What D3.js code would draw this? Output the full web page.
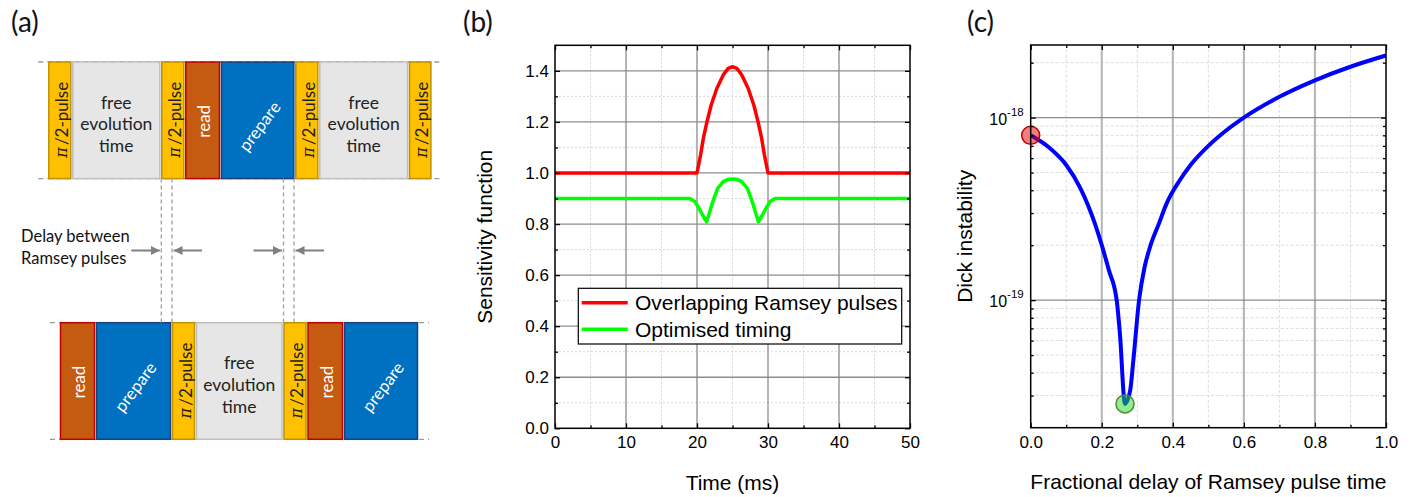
<!DOCTYPE html>
<html><head><meta charset="utf-8">
<script src="https://cdn.jsdelivr.net/npm/d3@7"></script>
<style>body{margin:0;background:#fff}</style>
</head><body>
<svg id="chart" width="1414" height="497" xmlns="http://www.w3.org/2000/svg"></svg>
<script>
// ---------------- DATA ----------------
const panelLabels = ["(a)", "(b)", "(c)"];

// Panel (a): pulse sequences (durations in arbitrary time units)
const topBlocks = ["pi2", "free", "pi2", "read", "prepare", "pi2", "free", "pi2"];
const topDurations = [2.4, 8.9, 2.4, 3.57, 7.43, 2.4, 8.97, 2.34];
const bottomBlocks = ["read", "prepare", "pi2", "free", "pi2", "read", "prepare"];
const bottomDurations = [3.6, 7.6, 2.4, 8.75, 2.4, 3.65, 7.5];
const rowStarts = [0, 1.17];
const freeLabelLines = ["free", "evolution", "time"];
const delayLabelLines = ["Delay between", "Ramsey pulses"];

// Panel (b): sensitivity function
const redTime = [0, 20, 20.5, 20.9, 21.4, 22, 22.8, 23.7, 24.4, 25, 25.6, 26.3, 27.2, 28, 28.6, 29.1, 29.5, 30, 50];
const redValue = [1, 1, 1.07, 1.136, 1.2, 1.266, 1.332, 1.384, 1.41, 1.416, 1.41, 1.384, 1.332, 1.266, 1.2, 1.136, 1.07, 1, 1];
const greenTime = [0, 19, 19.7, 20.28, 20.8, 21.35, 21.7, 22.07, 22.9, 23.7, 24.3, 25, 25.7, 26.3, 27.1, 27.93, 28.3, 28.65, 29.2, 29.72, 30.3, 31, 50];
const greenValue = [0.9, 0.9, 0.888, 0.862, 0.835, 0.808, 0.84, 0.875, 0.94, 0.966, 0.974, 0.976, 0.974, 0.966, 0.94, 0.875, 0.84, 0.808, 0.835, 0.862, 0.888, 0.9, 0.9];
const legendLabels = ["Overlapping Ramsey pulses", "Optimised timing"];
const legendColors = ["#ff0000", "#00ff00"];
const timeTicks = [0, 10, 20, 30, 40, 50];
const timeMinor = [5, 15, 25, 35, 45];
const sensTicks = [0, 0.2, 0.4, 0.6, 0.8, 1.0, 1.2, 1.4];
const sensMinor = [0.1, 0.3, 0.5, 0.7, 0.9, 1.1, 1.3];

// Panel (c): Dick instability
const delayFrac = [0, 0.05, 0.1, 0.14, 0.18, 0.2, 0.22, 0.242, 0.251, 0.2654, 0.28, 0.289, 0.305, 0.32, 0.336, 0.36, 0.383, 0.42, 0.45, 0.5, 0.55, 0.6, 0.7, 0.8, 0.9, 1.0];
const instability = [8.0e-19, 6.9e-19, 5.5e-19, 4.1e-19, 2.65e-19, 2.0e-19, 1.46e-19, 1.0e-19, 6.6e-20, 2.7e-20, 3.2e-20, 4.7e-20, 1.0e-19, 1.5e-19, 1.96e-19, 2.6e-19, 3.4e-19, 4.55e-19, 5.5e-19, 7.0e-19, 8.5e-19, 1.0e-18, 1.3e-18, 1.6e-18, 1.9e-18, 2.19e-18];
const markerDelay = [0, 0.2654];
const markerValue = [8.0e-19, 2.7e-20];
const markerFill = ["rgba(230,0,0,0.5)", "rgba(33,221,33,0.5)"];
const markerStroke = ["#c00000", "#4f8a2f"];
const delayTicks = [0, 0.2, 0.4, 0.6, 0.8, 1.0];
const delayMinor = [0.1, 0.3, 0.5, 0.7, 0.9];
const instabilityTicks = [1e-19, 1e-18];
const instabilityExp = ["-19", "-18"];
const instabilityMinor = [3e-20, 4e-20, 5e-20, 6e-20, 7e-20, 8e-20, 9e-20, 2e-19, 3e-19, 4e-19, 5e-19, 6e-19, 7e-19, 8e-19, 9e-19, 2e-18];

// ---------------- DRAW ----------------
const svg = d3.select("#chart");
const SANS = "'Liberation Sans', Arial, sans-serif";
const LATO = "Lato, 'Open Sans', sans-serif";

// panel labels
const labelX = d3.scaleOrdinal().domain(panelLabels).range([11, 463, 967]);
svg.selectAll("text.plabel").data(panelLabels).join("text")
  .attr("class", "plabel").attr("x", d => labelX(d)).attr("y", 32)
  .attr("font-family", LATO).attr("font-size", 28).attr("fill", "#111").text(d => d);

// ===== Panel (a) =====
const gA = svg.append("g");
const seqX = d3.scaleLinear().domain([0, 38.5]).range([48.3, 433.3]);
const rowY = d3.scaleOrdinal().domain([0, 1]).range([62, 322.7]);
const rowH = 116.6;
const styles = {
  pi2: {fill: "#ffc000", stroke: "#bf9000"},
  free: {fill: "#e6e6e6", stroke: "#bfbfbf"},
  read: {fill: "#c55a11", stroke: "#c00000"},
  prepare: {fill: "#0070c0", stroke: "#1f3f7a"}
};
function buildRow(blocks, durs, start, row) {
  let t = start;
  return blocks.map((b, i) => { const o = {type: b, t0: t, t1: t + durs[i], row}; t += durs[i]; return o; });
}
const topRow = buildRow(topBlocks, topDurations, rowStarts[0], 0);
const botRow = buildRow(bottomBlocks, bottomDurations, rowStarts[1], 1);

// dashed guide lines at row edges
[[topRow, 0], [botRow, 1]].forEach(([r, i]) => {
  const xa = seqX(r[0].t0) - 10, xb = seqX(r[r.length - 1].t1) + 10;
  [rowY(i), rowY(i) + rowH].forEach(yy => {
    gA.append("line").attr("x1", xa).attr("x2", xb).attr("y1", yy).attr("y2", yy)
      .attr("stroke", "#9a9a9a").attr("stroke-width", 1.3).attr("stroke-dasharray", "5,4");
  });
});

const allBlocks = topRow.concat(botRow);
const bg = gA.selectAll("g.blk").data(allBlocks).join("g").attr("class", "blk");
bg.append("rect")
  .attr("x", d => seqX(d.t0) + 0.5).attr("y", d => rowY(d.row))
  .attr("width", d => seqX(d.t1) - seqX(d.t0) - 2).attr("height", rowH)
  .attr("fill", d => styles[d.type].fill).attr("stroke", d => styles[d.type].stroke).attr("stroke-width", 1.5);

bg.each(function(d) {
  const g = d3.select(this);
  const cx = (seqX(d.t0) + seqX(d.t1)) / 2 - 0.5;
  const cy = rowY(d.row) + rowH / 2;
  if (d.type === "free") {
    freeLabelLines.forEach((ln, k) => {
      g.append("text").attr("x", cx).attr("y", cy + 10 + (k - 1) * 21.7)
        .attr("text-anchor", "middle").attr("font-family", LATO).attr("font-size", 17.5)
        .attr("fill", "#222").text(ln);
    });
  } else if (d.type === "pi2") {
    const t = g.append("text").attr("transform", `translate(${cx + 1},${cy - 0.5}) rotate(-90)`)
      .attr("text-anchor", "middle").attr("dominant-baseline", "central")
      .attr("font-family", LATO).attr("font-size", 17).attr("fill", "#222");
    t.append("tspan").attr("font-style", "italic").attr("font-family", "'DejaVu Serif', serif").attr("font-size", 16).text("π");
    t.append("tspan").text("\u2009/2-pulse");
  } else if (d.type === "read") {
    g.append("text").attr("transform", `translate(${cx + 1},${cy + 1})  rotate(-90)`)
      .attr("text-anchor", "middle").attr("dominant-baseline", "central")
      .attr("font-family", LATO).attr("font-size", 17).attr("fill", "#fff").text("read");
  } else {
    g.append("text").attr("transform", `translate(${cx + 1.5},${cy + 5.7}) rotate(-53)`)
      .attr("text-anchor", "middle").attr("dominant-baseline", "central")
      .attr("font-family", LATO).attr("font-size", 17).attr("fill", "#fff").text("prepare");
  }
});

// delay guide lines
const delayX = [seqX(topRow[2].t0), seqX(botRow[2].t0), seqX(botRow[4].t0), seqX(topRow[5].t0) - 1.3];
gA.selectAll("line.dly").data(delayX).join("line").attr("class", "dly")
  .attr("x1", d => d).attr("x2", d => d).attr("y1", rowY(0) + rowH).attr("y2", rowY(1))
  .attr("stroke", "#a6a6a6").attr("stroke-width", 1.4).attr("stroke-dasharray", "4,3");

// arrows
const defs = svg.append("defs");
defs.append("marker").attr("id", "ah").attr("viewBox", "0 0 10 10").attr("refX", 10).attr("refY", 5)
  .attr("markerWidth", 4.5).attr("markerHeight", 4.5).attr("markerUnits", "strokeWidth").attr("orient", "auto")
  .append("path").attr("d", "M0,0 L10,5 L0,10 Z").attr("fill", "#808080");
const arrowY = 250.5;
const arrows = [
  [delayX[0] - 30, delayX[0] - 1.5], [delayX[1] + 30, delayX[1] + 1.5],
  [delayX[2] - 30, delayX[2] - 1.5], [delayX[3] + 30, delayX[3] + 1.5]
];
gA.selectAll("line.arr").data(arrows).join("line").attr("class", "arr")
  .attr("x1", d => d[0]).attr("x2", d => d[1]).attr("y1", arrowY).attr("y2", arrowY)
  .attr("stroke", "#808080").attr("stroke-width", 2).attr("marker-end", "url(#ah)");

gA.selectAll("text.dl").data(delayLabelLines).join("text").attr("class", "dl")
  .attr("x", 21).attr("y", (d, i) => 241.7 + i * 22.3)
  .attr("font-family", LATO).attr("font-size", 16.5).attr("fill", "#111").text(d => d);

// helper to style axes
function styleAxis(sel, labels) {
  sel.select(".domain").remove();
  sel.selectAll(".tick line").attr("stroke", "#000").attr("stroke-width", 1.3);
  sel.selectAll("text").attr("font-family", SANS).attr("font-size", 17).attr("fill", "#000");
  if (!labels) sel.selectAll("text").remove();
}

// ===== Panel (b) =====
const gB = svg.append("g");
const xB = d3.scaleLinear().domain([0, 50]).range([555, 910]);
const yB = d3.scaleLinear().domain([0, 1.5]).range([428.3, 45.3]);
// minor grid
gB.selectAll("line.mgx").data(timeMinor).join("line")
  .attr("x1", d => xB(d)).attr("x2", d => xB(d)).attr("y1", yB(0)).attr("y2", yB(1.5))
  .attr("stroke", "#d8d8d8").attr("stroke-width", 1).attr("stroke-dasharray", "2,2");
gB.selectAll("line.mgy").data(sensMinor).join("line")
  .attr("y1", d => yB(d)).attr("y2", d => yB(d)).attr("x1", xB(0)).attr("x2", xB(50))
  .attr("stroke", "#d8d8d8").attr("stroke-width", 1).attr("stroke-dasharray", "2,2");
// major grid
gB.selectAll("line.gx").data(timeTicks.slice(1, -1)).join("line")
  .attr("x1", d => xB(d)).attr("x2", d => xB(d)).attr("y1", yB(0)).attr("y2", yB(1.5))
  .attr("stroke", "#8c8c8c").attr("stroke-width", 1.3);
gB.selectAll("line.gy").data(sensTicks.slice(1)).join("line")
  .attr("y1", d => yB(d)).attr("y2", d => yB(d)).attr("x1", xB(0)).attr("x2", xB(50))
  .attr("stroke", "#8c8c8c").attr("stroke-width", 1.3);

// curves
const lineB = d3.line().x(d => xB(d[0])).y(d => yB(d[1]));
gB.append("path").datum(greenTime.map((t, i) => [t, greenValue[i]])).attr("d", lineB)
  .attr("fill", "none").attr("stroke", "#00ff00").attr("stroke-width", 3.5).attr("stroke-linejoin", "round");
gB.append("path").datum(redTime.map((t, i) => [t, redValue[i]])).attr("d", lineB)
  .attr("fill", "none").attr("stroke", "#ff0000").attr("stroke-width", 3.5).attr("stroke-linejoin", "round");

// axes
gB.append("g").attr("transform", `translate(0,${yB(0)})`)
  .call(d3.axisBottom(xB).tickValues(timeTicks).tickSize(-5).tickPadding(8).tickFormat(d3.format("d")))
  .call(s => styleAxis(s, true));
gB.append("g").attr("transform", `translate(0,${yB(0)})`)
  .call(d3.axisBottom(xB).tickValues(timeMinor).tickSize(-3)).call(s => styleAxis(s, false));
gB.append("g").attr("transform", `translate(0,${yB(1.5)})`)
  .call(d3.axisTop(xB).tickValues(timeTicks).tickSize(-5)).call(s => styleAxis(s, false));
gB.append("g").attr("transform", `translate(0,${yB(1.5)})`)
  .call(d3.axisTop(xB).tickValues(timeMinor).tickSize(-3)).call(s => styleAxis(s, false));
gB.append("g").attr("transform", `translate(${xB(0)},0)`)
  .call(d3.axisLeft(yB).tickValues(sensTicks).tickSize(-5).tickPadding(6).tickFormat(d3.format(".1f")))
  .call(s => styleAxis(s, true));
gB.append("g").attr("transform", `translate(${xB(0)},0)`)
  .call(d3.axisLeft(yB).tickValues(sensMinor).tickSize(-3)).call(s => styleAxis(s, false));
gB.append("g").attr("transform", `translate(${xB(50)},0)`)
  .call(d3.axisRight(yB).tickValues(sensTicks).tickSize(-5)).call(s => styleAxis(s, false));
gB.append("g").attr("transform", `translate(${xB(50)},0)`)
  .call(d3.axisRight(yB).tickValues(sensMinor).tickSize(-3)).call(s => styleAxis(s, false));
gB.append("rect").attr("x", xB(0)).attr("y", yB(1.5)).attr("width", xB(50) - xB(0)).attr("height", yB(0) - yB(1.5))
  .attr("fill", "none").attr("stroke", "#000").attr("stroke-width", 1.5);

// legend
const lg = gB.append("g");
lg.append("rect").attr("x", 578.3).attr("y", 288.3).attr("width", 323.4).attr("height", 55.7)
  .attr("fill", "#fff").attr("stroke", "#000").attr("stroke-width", 1.2);
legendLabels.forEach((lab, i) => {
  const yy = 302.7 + i * 26.6;
  lg.append("line").attr("x1", 581.7).attr("x2", 627.7).attr("y1", yy).attr("y2", yy)
    .attr("stroke", legendColors[i]).attr("stroke-width", 3.5);
  lg.append("text").attr("x", 635).attr("y", yy).attr("dominant-baseline", "central")
    .attr("font-family", SANS).attr("font-size", 21).attr("fill", "#000").text(lab);
});

// axis titles
gB.append("text").attr("transform", `translate(484,${(yB(0) + yB(1.5)) / 2}) rotate(-90)`)
  .attr("text-anchor", "middle").attr("dominant-baseline", "central")
  .attr("font-family", SANS).attr("font-size", 21).text("Sensitivity function");
gB.append("text").attr("x", (xB(0) + xB(50)) / 2).attr("y", 490)
  .attr("text-anchor", "middle").attr("font-family", SANS).attr("font-size", 21).text("Time (ms)");

// ===== Panel (c) =====
const gC = svg.append("g");
const xC = d3.scaleLinear().domain([0, 1]).range([1030.7, 1386]);
const yC = d3.scaleLog().domain([2e-20, 2.5e-18]).range([427.7, 45]);
gC.selectAll("line.mgx").data(delayMinor).join("line")
  .attr("x1", d => xC(d)).attr("x2", d => xC(d)).attr("y1", yC.range()[0]).attr("y2", yC.range()[1])
  .attr("stroke", "#dcdcdc").attr("stroke-width", 1).attr("stroke-dasharray", "3,2");
gC.selectAll("line.mgy").data(instabilityMinor).join("line")
  .attr("y1", d => yC(d)).attr("y2", d => yC(d)).attr("x1", xC(0)).attr("x2", xC(1))
  .attr("stroke", "#dcdcdc").attr("stroke-width", 1).attr("stroke-dasharray", "3,2");
gC.selectAll("line.gx").data(delayTicks.slice(1, -1)).join("line")
  .attr("x1", d => xC(d)).attr("x2", d => xC(d)).attr("y1", yC.range()[0]).attr("y2", yC.range()[1])
  .attr("stroke", "#b4b4b4").attr("stroke-width", 2);
gC.selectAll("line.gy").data(instabilityTicks).join("line")
  .attr("y1", d => yC(d)).attr("y2", d => yC(d)).attr("x1", xC(0)).attr("x2", xC(1))
  .attr("stroke", "#8c8c8c").attr("stroke-width", 1.3);

const lineC = d3.line().x(d => xC(d[0])).y(d => yC(d[1])).curve(d3.curveMonotoneX);
gC.append("path").datum(delayFrac.map((t, i) => [t, instability[i]])).attr("d", lineC)
  .attr("fill", "none").attr("stroke", "#0000ff").attr("stroke-width", 4).attr("stroke-linejoin", "round");

gC.selectAll("circle.mk").data(markerDelay).join("circle").attr("class", "mk")
  .attr("cx", d => xC(d)).attr("cy", (d, i) => yC(markerValue[i])).attr("r", 9)
  .attr("fill", (d, i) => markerFill[i]).attr("stroke", (d, i) => markerStroke[i]).attr("stroke-width", 1.5);

gC.append("g").attr("transform", `translate(0,${yC.range()[0]})`)
  .call(d3.axisBottom(xC).tickValues(delayTicks).tickSize(-5).tickPadding(8).tickFormat(d3.format(".1f")))
  .call(s => styleAxis(s, true));
gC.append("g").attr("transform", `translate(0,${yC.range()[0]})`)
  .call(d3.axisBottom(xC).tickValues(delayMinor).tickSize(-3)).call(s => styleAxis(s, false));
gC.append("g").attr("transform", `translate(0,${yC.range()[1]})`)
  .call(d3.axisTop(xC).tickValues(delayTicks).tickSize(-5)).call(s => styleAxis(s, false));
gC.append("g").attr("transform", `translate(0,${yC.range()[1]})`)
  .call(d3.axisTop(xC).tickValues(delayMinor).tickSize(-3)).call(s => styleAxis(s, false));
const yAxC = gC.append("g").attr("transform", `translate(${xC(0)},0)`)
  .call(d3.axisLeft(yC).tickValues(instabilityTicks).tickSize(-5).tickPadding(7).tickFormat(() => ""))
  .call(s => styleAxis(s, true));
yAxC.selectAll(".tick text").each(function(d, i) {
  const t = d3.select(this).text(null).attr("font-size", 16).attr("dy", "0.4em");
  t.append("tspan").text("10");
  t.append("tspan").attr("font-size", 11.5).attr("dy", "-0.75em").text(instabilityExp[i]);
});
gC.append("g").attr("transform", `translate(${xC(0)},0)`)
  .call(d3.axisLeft(yC).tickValues(instabilityMinor).tickSize(-3).tickFormat(() => "")).call(s => styleAxis(s, false));
gC.append("g").attr("transform", `translate(${xC(1)},0)`)
  .call(d3.axisRight(yC).tickValues(instabilityTicks).tickSize(-5).tickFormat(() => "")).call(s => styleAxis(s, false));
gC.append("g").attr("transform", `translate(${xC(1)},0)`)
  .call(d3.axisRight(yC).tickValues(instabilityMinor).tickSize(-3).tickFormat(() => "")).call(s => styleAxis(s, false));
gC.append("rect").attr("x", xC(0)).attr("y", yC.range()[1]).attr("width", xC(1) - xC(0)).attr("height", yC.range()[0] - yC.range()[1])
  .attr("fill", "none").attr("stroke", "#000").attr("stroke-width", 1.5);

gC.append("text").attr("transform", `translate(964,${(yC.range()[0] + yC.range()[1]) / 2}) rotate(-90)`)
  .attr("text-anchor", "middle").attr("dominant-baseline", "central")
  .attr("font-family", SANS).attr("font-size", 21).text("Dick instability");
gC.append("text").attr("x", (xC(0) + xC(1)) / 2).attr("y", 489)
  .attr("text-anchor", "middle").attr("font-family", SANS).attr("font-size", 21).text("Fractional delay of Ramsey pulse time");
</script>
</body></html>
